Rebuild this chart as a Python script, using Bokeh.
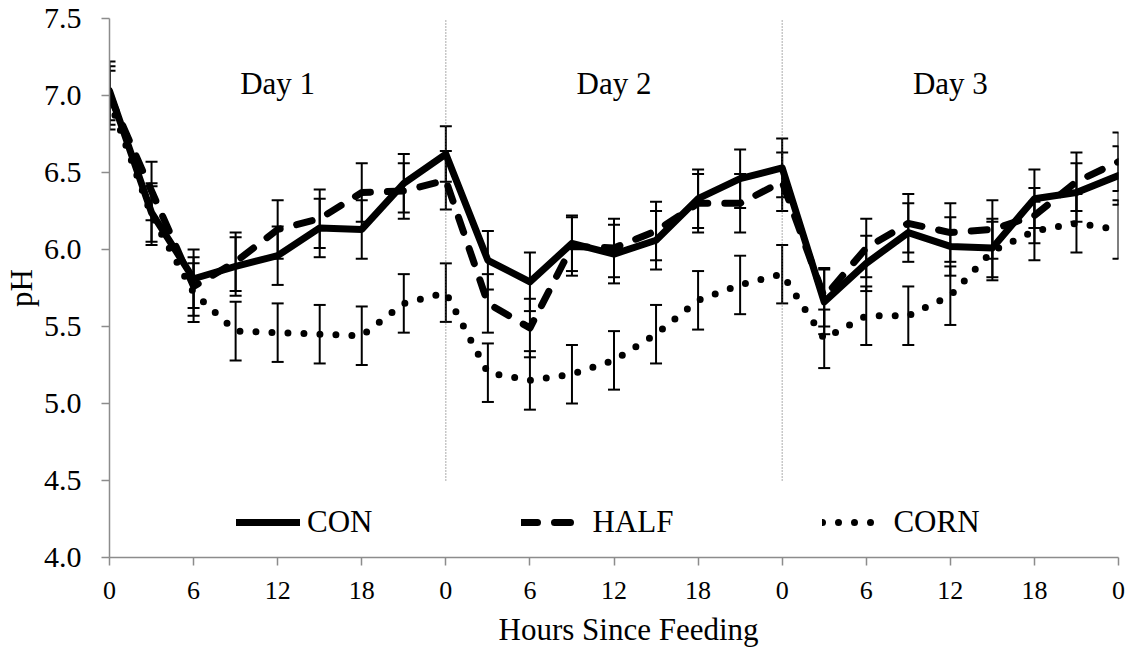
from bokeh.plotting import figure
from bokeh.models import (Range1d, FixedTicker, Whisker, TeeHead, ColumnDataSource,
                          Legend, LegendItem, Title)
from bokeh.core.properties import value
from bokeh.embed import file_html
from bokeh.resources import INLINE

# ---- data -----------------------------------------------------------------
hours = [0, 3, 6, 9, 12, 15, 18, 21, 24, 27, 30, 33, 36,
         39, 42, 45, 48, 51, 54, 57, 60, 63, 66, 69, 72]

con = [7.03, 6.24, 5.81, 5.89, 5.96, 6.14, 6.13, 6.43, 6.62, 5.93, 5.79, 6.04, 5.97,
       6.06, 6.33, 6.46, 6.53, 5.66, 5.91, 6.11, 6.02, 6.01, 6.33, 6.37, 6.48]
con_se = [0.19, 0.19, 0.19, 0.19, 0.19, 0.19, 0.19, 0.19, 0.18, 0.19, 0.19, 0.18, 0.19,
          0.19, 0.19, 0.19, 0.19, 0.21, 0.18, 0.19, 0.19, 0.19, 0.19, 0.19, 0.19]

half = [7.00, 6.38, 5.76, 5.92, 6.13, 6.20, 6.37, 6.38, 6.45, 5.65, 5.49, 6.02, 6.01,
        6.12, 6.30, 6.30, 6.44, 5.69, 6.01, 6.17, 6.11, 6.13, 6.22, 6.44, 6.57]
half_se = [0.19, 0.19, 0.19, 0.19, 0.19, 0.19, 0.19, 0.18, 0.19, 0.19, 0.19, 0.19, 0.19,
           0.19, 0.19, 0.19, 0.19, 0.19, 0.19, 0.19, 0.19, 0.19, 0.18, 0.19, 0.19]

corn = [6.97, 6.22, 5.72, 5.47, 5.46, 5.45, 5.44, 5.65, 5.72, 5.20, 5.15, 5.19, 5.28,
        5.45, 5.67, 5.77, 5.84, 5.42, 5.57, 5.57, 5.70, 5.99, 6.12, 6.17, 6.13]
corn_se = [0.19, 0.19, 0.19, 0.19, 0.19, 0.19, 0.19, 0.19, 0.19, 0.19, 0.19, 0.19, 0.19,
           0.19, 0.19, 0.19, 0.19, 0.19, 0.19, 0.19, 0.19, 0.19, 0.19, 0.19, 0.19]

x_ticks = [0, 6, 12, 18, 24, 30, 36, 42, 48, 54, 60, 66, 72]
x_tick_labels = ["0", "6", "12", "18", "0", "6", "12", "18", "0", "6", "12", "18", "0"]
y_ticks = [4.0, 4.5, 5.0, 5.5, 6.0, 6.5, 7.0, 7.5]
y_tick_labels = ["4.0", "4.5", "5.0", "5.5", "6.0", "6.5", "7.0", "7.5"]

day_names = ["Day 1", "Day 2", "Day 3"]
day_mid = [12, 36, 60]
day_breaks = [24, 48]

# ---- styling --------------------------------------------------------------
FONT = "Liberation Serif"
AXIS_GREY = "#8c8c8c"

p = figure(width=1129, height=655,
           x_range=Range1d(0, 72), y_range=Range1d(4.0, 7.5),
           output_backend="svg", toolbar_location=None,
           min_border_left=108, min_border_right=11,
           min_border_top=18, min_border_bottom=98)

p.outline_line_color = None
p.xgrid.visible = False
p.ygrid.visible = False
p.background_fill_color = "white"
p.border_fill_color = "white"

# x axis
xax = p.xaxis[0]
xax.ticker = FixedTicker(ticks=x_ticks)
xax.major_label_overrides = {t: s for t, s in zip(x_ticks, x_tick_labels)}
xax.minor_tick_line_color = None
xax.major_tick_in = 0
xax.major_tick_out = 8
xax.axis_line_color = AXIS_GREY
xax.axis_line_width = 1.5
xax.major_tick_line_color = AXIS_GREY
xax.major_tick_line_width = 1.5
xax.major_label_text_font = FONT
xax.major_label_text_font_size = "26px"
xax.major_label_text_color = "black"
xax.major_label_standoff = 16

# y axis
yax = p.yaxis[0]
yax.ticker = FixedTicker(ticks=y_ticks)
yax.major_label_overrides = {t: s for t, s in zip(y_ticks, y_tick_labels)}
yax.minor_tick_line_color = None
yax.major_tick_in = 0
yax.major_tick_out = 8
yax.axis_line_color = AXIS_GREY
yax.axis_line_width = 1.5
yax.major_tick_line_color = AXIS_GREY
yax.major_tick_line_width = 1.5
yax.major_label_text_font = FONT
yax.major_label_text_font_size = "30px"
yax.major_label_text_color = "black"
yax.major_label_standoff = 20
yax.axis_label = "pH"
yax.axis_label_text_font = FONT
yax.axis_label_text_font_size = "31px"
yax.axis_label_text_font_style = "normal"
yax.axis_label_text_color = "black"
yax.axis_label_standoff = 2

# day separators (dotted vertical rules from 4.5 up to the top)
sep_low = 4.5
sep_high = 7.5
p.segment(x0=day_breaks, y0=[sep_low] * len(day_breaks),
          x1=day_breaks, y1=[sep_high] * len(day_breaks),
          line_color="#595959", line_width=1, line_dash="1 2")

# day headings
p.text(x=day_mid, y=[7.075] * len(day_mid), text=day_names,
       text_font=value(FONT), text_font_size=value("31px"),
       text_align="center", text_baseline="alphabetic", text_color="black")

# ---- series ---------------------------------------------------------------
series = [
    ("CON", con, con_se, dict(line_dash="solid")),
    ("HALF", half, half_se, dict(line_dash="16 17")),
    ("CORN", corn, corn_se, dict(line_dash="0 16")),
]

renderers = []
for name, vals, se, style in series:
    src = ColumnDataSource(dict(
        x=hours, y=vals,
        upper=[v + s for v, s in zip(vals, se)],
        lower=[v - s for v, s in zip(vals, se)],
    ))
    r = p.line("x", "y", source=src, line_color="black", line_width=7,
               line_cap="round", line_join="round", **style)
    renderers.append((name, r))
    p.add_layout(Whisker(source=src, base="x", upper="upper", lower="lower",
                         line_color="black", line_width=2,
                         upper_head=TeeHead(size=12, line_width=2, line_color="black"),
                         lower_head=TeeHead(size=12, line_width=2, line_color="black")))

legend = Legend(items=[LegendItem(label=n, renderers=[r]) for n, r in renderers],
                orientation="horizontal", location=(127, 17),
                spacing=149, glyph_width=64, glyph_height=24, label_standoff=7,
                padding=0, margin=0, border_line_color=None,
                background_fill_alpha=0,
                label_text_font=FONT, label_text_font_size="31px",
                label_text_color="black")
p.add_layout(legend)

# x axis title, set below the tick labels, starting left of centre like the source layout
p.add_layout(Title(text="Hours Since Feeding", align="left", offset=389,
                   text_font=FONT, text_font_size="31px",
                   text_font_style="normal", text_color="black",
                   standoff=17), "below")

open("out.html", "w").write(file_html(p, INLINE))
